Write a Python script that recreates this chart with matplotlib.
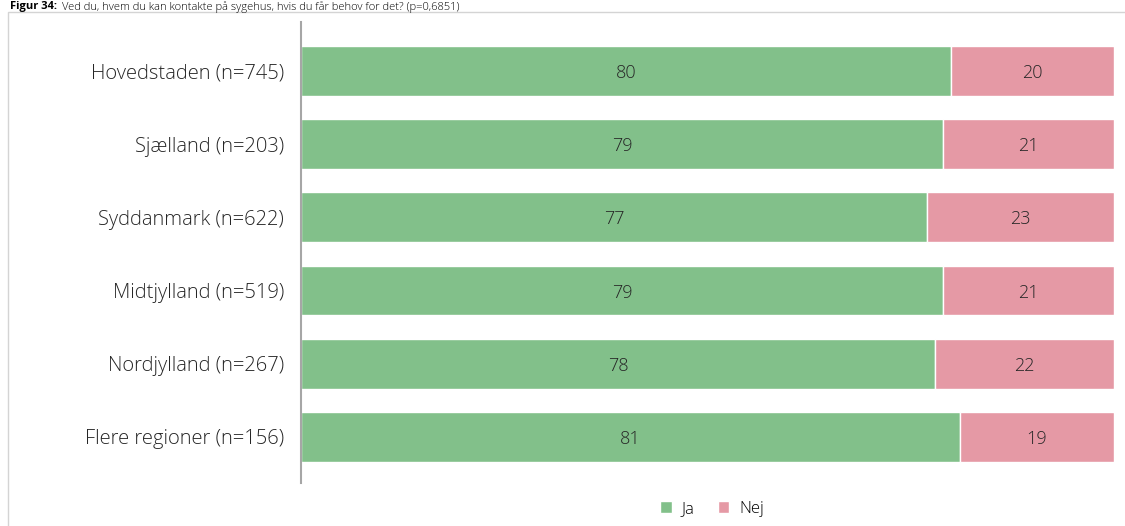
import matplotlib.pyplot as plt
import matplotlib.patches as mpatches
import numpy as np

plt.rcParams.update({
    "font.family": ["Open Sans", "DejaVu Sans"],
    "font.weight": "light",
})

# ── Data ───────────────────────────────────────────────────────────────────────
regions = ["Hovedstaden (n=745)", "Sjælland (n=203)", "Syddanmark (n=622)",
           "Midtjylland (n=519)", "Nordjylland (n=267)", "Flere regioner (n=156)"]
ja = [80, 79, 77, 79, 78, 81]
nej = [20, 21, 23, 21, 22, 19]
series_labels = ["Ja", "Nej"]

GREEN = "#82C08A"
PINK = "#E599A5"
TEXT = "#262626"

W, H = 1125, 526
fig = plt.figure(figsize=(W / 100, H / 100), dpi=100)

# outer frame (light grey border)
fig.patches.append(mpatches.Rectangle((8 / W, -0.1), 1.2, 1 - 12 / H + 0.1,
                                      transform=fig.transFigure, fill=False,
                                      edgecolor="#D4D4D4", linewidth=1))

# caption squeezed into the strip above the frame
fig.text(10 / W, 1 - 1 / H, "Figur 34:", fontsize=8, fontweight="bold",
         color="black", va="top", ha="left")
fig.text(62 / W, 1 - 1 / H,
         "Ved du, hvem du kan kontakte på sygehus, hvis du får behov for det? (p=0,6851)",
         fontsize=8, color="black", va="top", ha="left")

ax = fig.add_axes([301 / W, 1 - 483 / H, (1114 - 301) / W, (483 - 22) / H])

y = np.arange(len(regions))
b1 = ax.barh(y, ja, height=0.68, color=GREEN, edgecolor="white", linewidth=1, label="Ja")
b2 = ax.barh(y, nej, left=ja, height=0.68, color=PINK, edgecolor="white", linewidth=1, label="Nej")

for vals, lefts in [(ja, [0] * len(ja)), (nej, ja)]:
    for yi, v, l in zip(y, vals, lefts):
        ax.text(l + v / 2, yi, f"{v}", ha="center", va="center_baseline",
                fontsize=13, color=TEXT)

ax.set_xlim(0, 100)
ax.set_ylim(5.63, -0.67)
ax.set_yticks(y)
ax.set_yticklabels(regions, fontsize=14.5, color=TEXT, va="center_baseline")
ax.tick_params(axis="y", length=0, pad=12)
ax.set_xticks([])
for s in ["top", "right", "bottom"]:
    ax.spines[s].set_visible(False)
ax.spines["left"].set_color("#A6A6A6")
ax.spines["left"].set_linewidth(1.5)

fig.legend(handles=[b1, b2], labels=series_labels, loc="center",
           bbox_to_anchor=(712 / W, 1 - 509 / H), ncol=2, frameon=False,
           fontsize=12, handlelength=0.7, handleheight=0.7,
           handletextpad=0.6, columnspacing=1.4)

fig.savefig("out.png", dpi=100)
